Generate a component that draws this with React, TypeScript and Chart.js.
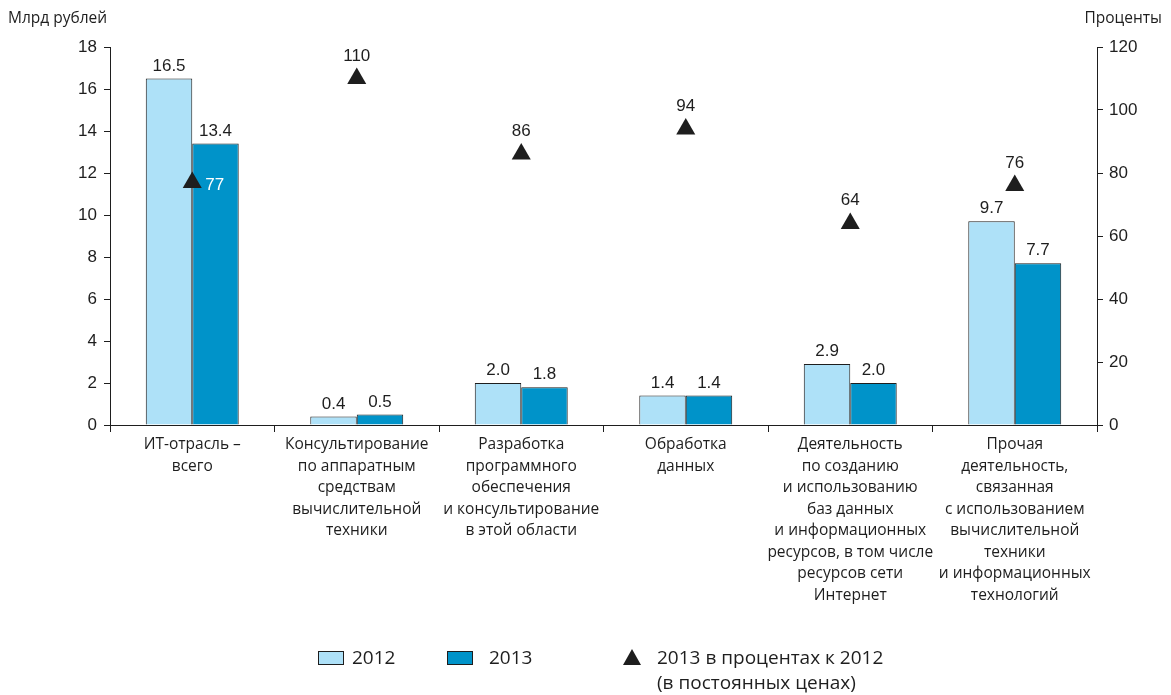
import React, { useEffect, useRef } from "react";
import { Chart, registerables } from "chart.js";

Chart.register(...registerables);

const categories: string[][] = [
  ["ИТ-отрасль –", "всего"],
  ["Консультирование", "по аппаратным", "средствам", "вычислительной", "техники"],
  ["Разработка", "программного", "обеспечения", "и консультирование", "в этой области"],
  ["Обработка", "данных"],
  ["Деятельность", "по созданию", "и использованию", "баз данных", "и информационных", "ресурсов, в том числе", "ресурсов сети", "Интернет"],
  ["Прочая", "деятельность,", "связанная", "с использованием", "вычислительной", "техники", "и информационных", "технологий"],
];
const values2012 = [16.5, 0.4, 2.0, 1.4, 2.9, 9.7];
const values2013 = [13.4, 0.5, 1.8, 1.4, 2.0, 7.7];
const percent = [77, 110, 86, 94, 64, 76];
const leftTicks = [0, 2, 4, 6, 8, 10, 12, 14, 16, 18];
const rightTicks = [0, 20, 40, 60, 80, 100, 120];

const NUM_FONT = "'Liberation Sans Narrow', 'Arial Narrow', 'Liberation Sans', sans-serif";
const TXT_FONT = "'Open Sans', 'Noto Sans', sans-serif";
const C2012 = "#aee1f8";
const C2013 = "#0093c9";
const DARK = "#1e1e1e";

const labelsPlugin = {
  id: "customLabels",
  afterDatasetsDraw(chart: any) {
    const ctx = chart.ctx;
    ctx.save();
    ctx.font = `17px ${NUM_FONT}`;
    ctx.textAlign = "center";
    ctx.textBaseline = "alphabetic";
    ctx.fillStyle = DARK;
    [0, 1].forEach((di) => {
      const meta = chart.getDatasetMeta(di);
      const data = di === 0 ? values2012 : values2013;
      meta.data.forEach((el: any, i: number) => {
        ctx.fillText(data[i].toFixed(1), el.x, el.y - 8);
      });
    });
    const meta = chart.getDatasetMeta(2);
    meta.data.forEach((el: any, i: number) => {
      if (i === 0) {
        ctx.fillStyle = "#ffffff";
        ctx.textAlign = "left";
        ctx.fillText(String(percent[i]), el.x + 13, el.y + 8);
      } else {
        ctx.fillStyle = DARK;
        ctx.textAlign = "center";
        ctx.fillText(String(percent[i]), el.x, el.y - 18);
      }
    });
    ctx.restore();
  },
  afterDraw(chart: any) {
    const ctx = chart.ctx;
    ctx.save();
    // axis titles
    ctx.font = `15.5px ${TXT_FONT}`;
    ctx.fillStyle = DARK;
    ctx.textBaseline = "middle";
    ctx.textAlign = "left";
    ctx.fillText("Млрд рублей", 8, 19);
    ctx.textAlign = "right";
    ctx.fillText("Проценты", 1162, 19);
    // legend
    ctx.lineWidth = 1;
    ctx.strokeStyle = DARK;
    ctx.fillStyle = C2012;
    ctx.fillRect(318.5, 651.5, 25, 13);
    ctx.strokeRect(318.5, 651.5, 25, 13);
    ctx.fillStyle = C2013;
    ctx.fillRect(447.5, 651.5, 25, 13);
    ctx.strokeRect(447.5, 651.5, 25, 13);
    ctx.fillStyle = DARK;
    ctx.beginPath();
    ctx.moveTo(632, 649);
    ctx.lineTo(641, 665);
    ctx.lineTo(623, 665);
    ctx.closePath();
    ctx.fill();
    ctx.font = `19px ${TXT_FONT}`;
    ctx.textAlign = "left";
    ctx.fillText("2012", 352, 659);
    ctx.fillText("2013", 489, 659);
    ctx.fillText("2013 в процентах к 2012", 657, 659);
    ctx.fillText("(в постоянных ценах)", 657, 684);
    ctx.restore();
  },
};

export default function App() {
  const ref = useRef<HTMLCanvasElement | null>(null);
  useEffect(() => {
    if (!ref.current) return;
    const chart = new Chart(ref.current, {
      type: "bar",
      data: {
        labels: categories,
        datasets: [
          {
            label: "2012",
            data: values2012,
            backgroundColor: C2012,
            borderColor: DARK,
            borderWidth: 1,
            yAxisID: "y",
            order: 2,
          },
          {
            label: "2013",
            data: values2013,
            backgroundColor: C2013,
            borderColor: DARK,
            borderWidth: 1,
            yAxisID: "y",
            order: 2,
          },
          {
            type: "line",
            label: "2013 в процентах к 2012",
            data: percent,
            showLine: false,
            pointStyle: "triangle",
            pointRadius: 11,
            pointBackgroundColor: DARK,
            pointBorderColor: DARK,
            pointBorderWidth: 0,
            yAxisID: "y1",
            order: 1,
          } as any,
        ],
      },
      options: {
        responsive: false,
        animation: false,
        layout: { padding: { left: 0, right: 0, top: 47, bottom: 0 } },
        datasets: {
          bar: { categoryPercentage: 0.565, barPercentage: 1 },
        } as any,
        plugins: {
          legend: { display: false },
          tooltip: { enabled: false },
        },
        scales: {
          x: {
            offset: true,
            grid: {
              display: true,
              offset: true,
              drawOnChartArea: false,
              drawTicks: true,
              tickLength: 7,
              color: DARK,
            },
            border: { display: true, color: DARK, width: 1 },
            ticks: {
              color: DARK,
              maxRotation: 0,
              autoSkip: false,
              padding: 2,
              font: { family: TXT_FONT, size: 15.5, lineHeight: 1.39 },
            },
            afterFit(scale: any) {
              scale.height = 270;
            },
          },
          y: {
            position: "left",
            min: 0,
            max: 18,
            afterBuildTicks(scale: any) {
              scale.ticks = leftTicks.map((v) => ({ value: v }));
            },
            grid: {
              drawOnChartArea: false,
              drawTicks: true,
              tickLength: 6,
              color: DARK,
            },
            border: { display: true, color: DARK, width: 1 },
            ticks: {
              color: DARK,
              padding: 7,
              font: { family: NUM_FONT, size: 17 },
            },
            afterFit(scale: any) {
              scale.width = 110;
            },
          },
          y1: {
            position: "right",
            min: 0,
            max: 120,
            afterBuildTicks(scale: any) {
              scale.ticks = rightTicks.map((v) => ({ value: v }));
            },
            grid: {
              drawOnChartArea: false,
              drawTicks: true,
              tickLength: 6,
              color: DARK,
            },
            border: { display: true, color: DARK, width: 1 },
            ticks: {
              color: DARK,
              padding: 6,
              font: { family: NUM_FONT, size: 17 },
            },
            afterFit(scale: any) {
              scale.width = 74;
            },
          },
        },
      },
      plugins: [labelsPlugin],
    });
    return () => chart.destroy();
  }, []);
  return (
    <div style={{ position: "fixed", left: 0, top: 0, width: 1171, height: 695, background: "#ffffff" }}>
      <canvas ref={ref} width={1171} height={695} style={{ display: "block" }} />
    </div>
  );
}
